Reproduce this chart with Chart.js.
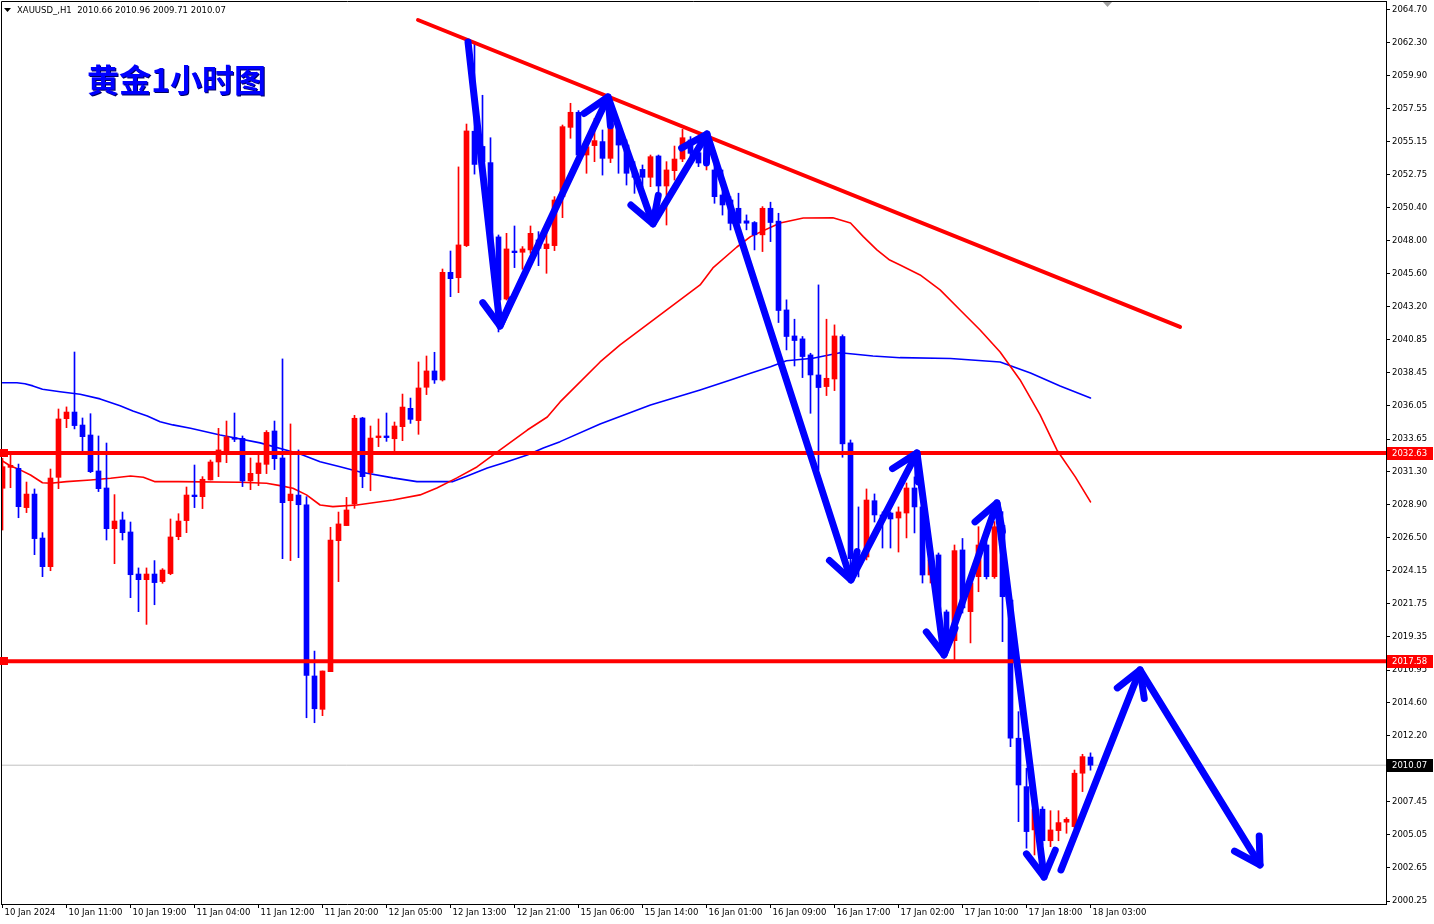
<!DOCTYPE html>
<html>
<head>
<meta charset="utf-8">
<title>XAUUSD H1</title>
<script src="https://cdn.jsdelivr.net/npm/chart.js@4.4.1/dist/chart.umd.min.js"></script>
<style>
  html, body { margin: 0; padding: 0; background: #fff; }
  #wrap { width: 1434px; height: 924px; position: relative; }
</style>
</head>
<body>
<div id="wrap"><canvas id="myChart"></canvas></div>
<script>
'use strict';

// H1 candles, 10 Jan 03:00 .. 18 Jan 03:00
let opens = [
  2030.09, 2031.60, 2031.53, 2028.69, 2029.67, 2026.49, 2024.42, 2030.88, 2035.12, 2035.60,
  2034.66, 2033.94, 2031.34, 2030.11, 2027.17, 2027.80, 2026.93, 2023.89, 2023.48, 2023.89,
  2023.34, 2023.92, 2026.59, 2027.75, 2029.60, 2029.48, 2030.69, 2031.99, 2032.74, 2033.75,
  2033.70, 2030.62, 2031.15, 2031.82, 2034.23, 2032.28, 2029.19, 2029.60, 2028.90, 2016.52,
  2014.11, 2016.83, 2026.30, 2027.39, 2028.95, 2035.17, 2031.22, 2033.75, 2033.87, 2033.67,
  2034.54, 2035.87, 2034.98, 2037.39, 2038.57, 2037.92, 2045.70, 2045.31, 2047.63, 2055.90,
  2054.80, 2053.63, 2048.26, 2043.77, 2047.24, 2047.15, 2047.32, 2048.04, 2047.41, 2047.63,
  2051.17, 2056.18, 2057.27, 2054.18, 2054.86, 2055.15, 2053.94, 2056.23, 2054.90, 2052.86,
  2053.14, 2052.57, 2054.11, 2051.94, 2053.05, 2053.89, 2055.27, 2054.35, 2053.60, 2053.10,
  2051.29, 2050.93, 2050.33, 2049.42, 2049.30, 2048.41, 2050.33, 2049.40, 2042.98, 2041.10,
  2040.89, 2039.73, 2038.28, 2037.44, 2037.99, 2041.06, 2033.37, 2025.20, 2025.12, 2029.19,
  2028.16, 2028.30, 2027.94, 2028.30, 2030.11, 2028.74, 2023.82, 2025.27, 2021.15, 2019.07,
  2025.63, 2021.17, 2023.70, 2025.99, 2023.70, 2027.40, 2022.01, 2012.02, 2008.52, 2005.39,
  2006.89, 2004.61, 2005.34, 2005.95, 2005.63, 2009.49, 2010.66
];
let highs = [
  2032.25, 2032.49, 2031.84, 2030.54, 2030.04, 2026.88, 2031.48, 2035.82, 2035.97, 2039.94,
  2035.17, 2035.48, 2033.87, 2033.36, 2029.63, 2028.37, 2027.65, 2024.33, 2024.33, 2024.86,
  2024.28, 2027.87, 2028.25, 2030.18, 2031.77, 2030.93, 2032.13, 2034.42, 2034.95, 2035.53,
  2033.87, 2032.28, 2032.52, 2034.26, 2034.95, 2039.44, 2034.74, 2032.86, 2029.48, 2018.32,
  2016.88, 2027.27, 2028.37, 2029.43, 2035.36, 2035.22, 2034.59, 2035.10, 2035.53, 2034.88,
  2036.90, 2036.61, 2039.22, 2039.65, 2039.92, 2045.94, 2047.24, 2053.32, 2056.42, 2062.40,
  2058.50, 2055.43, 2048.40, 2048.52, 2049.05, 2047.56, 2049.05, 2048.64, 2048.52, 2051.17,
  2056.35, 2057.92, 2057.39, 2055.27, 2056.83, 2055.99, 2057.43, 2056.47, 2055.27, 2053.70,
  2053.46, 2054.18, 2054.18, 2053.70, 2054.83, 2056.04, 2055.51, 2055.27, 2055.51, 2053.70,
  2053.10, 2051.17, 2051.42, 2049.85, 2049.37, 2050.45, 2050.77, 2049.97, 2043.71, 2042.31,
  2041.06, 2039.85, 2044.79, 2042.31, 2041.90, 2041.18, 2033.58, 2028.74, 2030.04, 2029.68,
  2028.38, 2028.38, 2028.74, 2030.47, 2030.91, 2029.24, 2025.63, 2025.41, 2021.29, 2025.99,
  2026.46, 2023.46, 2027.31, 2026.35, 2027.68, 2028.40, 2022.23, 2013.94, 2009.85, 2007.07,
  2007.07, 2006.78, 2006.78, 2006.28, 2009.72, 2010.86, 2010.96
];
let lows = [
  2027.07, 2030.13, 2027.96, 2028.33, 2025.29, 2023.70, 2024.13, 2030.06, 2034.47, 2034.38,
  2032.79, 2031.22, 2029.85, 2026.35, 2024.64, 2026.35, 2022.18, 2021.17, 2020.25, 2021.67,
  2023.22, 2023.84, 2026.37, 2026.88, 2028.69, 2028.62, 2030.69, 2030.93, 2031.94, 2033.46,
  2030.21, 2029.99, 2030.28, 2031.15, 2031.44, 2025.00, 2024.86, 2025.07, 2013.50, 2013.14,
  2013.65, 2016.83, 2023.34, 2027.39, 2028.64, 2030.13, 2029.91, 2033.10, 2033.48, 2032.81,
  2033.53, 2034.78, 2033.99, 2036.86, 2037.67, 2037.84, 2043.94, 2044.23, 2047.56, 2052.80,
  2053.10, 2047.32, 2041.39, 2043.70, 2046.04, 2045.92, 2047.07, 2046.18, 2045.63, 2047.27,
  2049.65, 2055.39, 2054.06, 2052.86, 2053.70, 2052.73, 2053.63, 2052.86, 2052.01, 2051.41,
  2051.89, 2051.89, 2051.53, 2049.12, 2052.37, 2053.70, 2053.94, 2053.34, 2053.10, 2050.69,
  2049.84, 2048.76, 2048.89, 2048.77, 2047.32, 2047.20, 2047.92, 2042.07, 2040.09, 2038.93,
  2038.09, 2035.51, 2031.42, 2036.79, 2037.15, 2032.33, 2023.32, 2023.68, 2024.91, 2027.65,
  2025.77, 2025.77, 2025.48, 2026.50, 2026.86, 2023.24, 2023.24, 2020.57, 2018.04, 2017.68,
  2021.07, 2018.91, 2022.61, 2023.53, 2023.58, 2019.00, 2011.41, 2005.99, 2004.07, 2003.58,
  2004.30, 2004.18, 2004.61, 2005.15, 2005.51, 2008.16, 2009.71
];
let closes = [
  2031.65, 2031.75, 2028.76, 2029.67, 2026.45, 2024.42, 2030.83, 2035.10, 2035.60, 2034.62,
  2033.82, 2031.29, 2030.06, 2027.17, 2027.72, 2026.88, 2023.84, 2023.48, 2023.89, 2023.27,
  2024.18, 2026.57, 2027.72, 2029.60, 2029.48, 2030.74, 2031.99, 2032.86, 2033.80, 2033.63,
  2030.62, 2031.17, 2031.92, 2034.13, 2032.23, 2029.05, 2029.67, 2028.90, 2016.56, 2014.15,
  2016.88, 2026.35, 2027.51, 2028.52, 2035.15, 2030.93, 2033.72, 2033.87, 2033.75, 2034.59,
  2035.96, 2035.07, 2037.34, 2038.57, 2037.92, 2045.70, 2045.24, 2047.68, 2055.92, 2053.50,
  2053.70, 2048.04, 2043.70, 2047.39, 2047.12, 2047.39, 2048.52, 2047.44, 2047.75, 2050.93,
  2056.23, 2057.27, 2054.18, 2054.78, 2055.22, 2053.94, 2056.47, 2054.90, 2052.86, 2052.57,
  2052.57, 2054.06, 2051.94, 2053.10, 2053.89, 2055.43, 2054.30, 2053.60, 2054.30, 2051.17,
  2050.57, 2049.24, 2049.25, 2049.25, 2048.41, 2050.33, 2049.30, 2042.94, 2041.06, 2040.77,
  2039.61, 2038.28, 2037.37, 2038.04, 2041.10, 2033.30, 2025.00, 2024.98, 2029.24, 2028.16,
  2028.02, 2027.87, 2028.38, 2030.11, 2028.74, 2023.82, 2024.91, 2021.29, 2019.12, 2025.58,
  2021.44, 2023.25, 2025.99, 2023.70, 2027.31, 2022.25, 2012.02, 2008.64, 2005.27, 2006.89,
  2004.61, 2005.39, 2005.92, 2006.16, 2009.49, 2010.69, 2010.07
];

// one time label every 8 candles
let timeLabels = [
  '10 Jan 2024', '10 Jan 11:00', '10 Jan 19:00', '11 Jan 04:00', '11 Jan 12:00', '11 Jan 20:00',
  '12 Jan 05:00', '12 Jan 13:00', '12 Jan 21:00', '15 Jan 06:00', '15 Jan 14:00', '16 Jan 01:00',
  '16 Jan 09:00', '16 Jan 17:00', '17 Jan 02:00', '17 Jan 10:00', '17 Jan 18:00', '18 Jan 03:00'
];
let priceTicks = [
  2064.70, 2062.30, 2059.90, 2057.55, 2055.15, 2052.75, 2050.40, 2048.00, 2045.60, 2043.20,
  2040.85, 2038.45, 2036.05, 2033.65, 2031.30, 2028.90, 2026.50, 2024.15, 2021.75, 2019.35,
  2016.95, 2014.60, 2012.20, 2009.80, 2007.45, 2005.05, 2002.65, 2000.25
];

// horizontal levels + last price
let levels = [2032.63, 2017.58];
let lastPrice = 2010.07;

// trend line (candle index, price)
let trendIdx = [51.94, 147.19];
let trendPrice = [2063.94, 2041.75];

// moving averages
let maRedIdx = [0, 1, 2.2, 3.5, 5, 6, 8, 11, 13.5, 16, 17.6, 19, 22, 29.7, 33, 34.7, 36.3, 38, 39.7, 41.3,
  44.3, 48.8, 52.2, 54.3, 56.8, 59.3, 62.2, 65.6, 68.1, 69.7, 74.7, 77.2, 82.2, 87.2, 88.8, 91.8, 93.5, 97.2,
  100.1, 103.8, 106, 107.6, 109.3, 110.9, 112.2, 114.7, 117.2, 119.7, 122.2, 124.7, 127.2, 129.7, 131.8, 134.1, 136];
let maRed = [2032.06, 2031.70, 2031.42, 2031.05, 2030.49, 2030.45, 2030.57, 2030.69, 2030.81, 2030.98, 2030.89,
  2030.57, 2030.57, 2030.52, 2030.45, 2030.28, 2030.09, 2029.61, 2028.88, 2028.76, 2028.88, 2029.24, 2029.61,
  2030.11, 2030.84, 2031.63, 2032.86, 2034.30, 2035.24, 2036.33, 2039.22, 2040.45, 2042.62, 2044.79, 2046.02,
  2047.53, 2048.28, 2049.27, 2049.63, 2049.65, 2049.27, 2048.28, 2047.32, 2046.59, 2046.23, 2045.51, 2044.43,
  2042.98, 2041.53, 2039.94, 2037.92, 2035.39, 2032.86, 2030.91, 2029.10];
let maBlueIdx = [0, 1.8, 2.8, 3.8, 5, 7.2, 9.7, 12.2, 14.7, 16.3, 18.1, 19.7, 21.3, 23.5, 27.2, 32.2, 37.2, 39.7,
  42.2, 44.7, 48.8, 51.8, 56.3, 58.1, 60.6, 62.6, 65.6, 67.6, 69.7, 74.7, 81, 87.2, 91, 93.5, 96, 98, 101.3,
  104.7, 106.3, 108.8, 112.2, 118.5, 124.7, 128.5, 132.2, 136];
let maBlue = [2037.72, 2037.72, 2037.65, 2037.49, 2037.25, 2037.07, 2036.89, 2036.55, 2036.06, 2035.68, 2035.32,
  2034.90, 2034.67, 2034.43, 2033.94, 2033.37, 2032.57, 2032.01, 2031.65, 2031.27, 2030.84, 2030.57, 2030.57,
  2030.98, 2031.56, 2031.92, 2032.50, 2033.00, 2033.46, 2034.74, 2036.11, 2037.20, 2037.92, 2038.40, 2038.88,
  2039.31, 2039.49, 2039.89, 2039.80, 2039.65, 2039.53, 2039.47, 2039.22, 2038.42, 2037.49, 2036.62];

// hand drawn arrows (candle index, price)
let zigIdx = [58.19, 62.19, 75.69, 81.31, 88.06, 106.06, 114.31, 117.69, 124.31, 130.19];
let zigPrice = [2062.35, 2041.82, 2058.38, 2049.20, 2055.70, 2023.46, 2032.64, 2018.04, 2029.03, 2001.99];
let nextIdx = [132.31, 142.19, 157.19];
let nextPrice = [2002.50, 2016.96, 2002.86];

const RED = '#ff0000';
const BLUE = '#0000ff';
const FONT = 'DejaVu Sans';

function pts(xs, ys) {
  return xs.map((x, i) => ({ x: x, y: ys[i] }));
}

let bodies = [];
let wicks = [];
let candleColors = [];
for (let i = 0; i < opens.length; i++) {
  bodies.push({ x: i, y: [opens[i], closes[i]] });
  wicks.push({ x: i, y: [lows[i], highs[i]] });
  candleColors.push(closes[i] >= opens[i] ? RED : BLUE);
}

function flatLine(v) {
  return [{ x: -5, y: v }, { x: 180, y: v }];
}

function lineSet(data, color, width, order) {
  return {
    type: 'line', data: data, borderColor: color, borderWidth: width,
    pointRadius: 0, fill: false, tension: 0, order: order,
    borderCapStyle: 'round', borderJoinStyle: 'round'
  };
}

let arrowSets = [
  lineSet(pts(zigIdx, zigPrice), BLUE, 7, 0),
  lineSet(pts(nextIdx, nextPrice), BLUE, 7, 0)
];

let datasets = arrowSets.concat([
  lineSet(flatLine(levels[0]), RED, 4, 1),
  lineSet(flatLine(levels[1]), RED, 4, 1),
  lineSet(pts(trendIdx, trendPrice), RED, 4, 1),
  {
    type: 'bar', data: bodies, backgroundColor: candleColors, borderWidth: 0,
    barThickness: 5, grouped: false, minBarLength: 1, order: 2
  },
  {
    type: 'bar', data: wicks, backgroundColor: candleColors, borderWidth: 0,
    barThickness: 1, grouped: false, minBarLength: 1, order: 3
  },
  lineSet(pts(maRedIdx, maRed), RED, 1.6, 4),
  lineSet(pts(maBlueIdx, maBlue), BLUE, 1.6, 4),
  lineSet(flatLine(lastPrice), '#c0c0c0', 1, 5)
]);

function drawHead(ctx, from, to) {
  let ang = Math.atan2(to.y - from.y, to.x - from.x);
  let len = 29;
  let spread = Math.PI / 6;
  ctx.beginPath();
  ctx.moveTo(to.x - len * Math.cos(ang - spread), to.y - len * Math.sin(ang - spread));
  ctx.lineTo(to.x, to.y);
  ctx.lineTo(to.x - len * Math.cos(ang + spread), to.y - len * Math.sin(ang + spread));
  ctx.stroke();
}

// keep the plot area glued to the frame, no room for label overflow
function noPad(scale) {
  scale.paddingTop = 0;
  scale.paddingBottom = 0;
  scale.paddingLeft = 0;
  scale.paddingRight = 0;
}

const mt4Look = {
  id: 'mt4Look',
  beforeDraw(chart) {
    let ctx = chart.ctx;
    ctx.save();
    ctx.fillStyle = '#fff';
    ctx.fillRect(0, 0, chart.width, chart.height);
    ctx.restore();
  },
  afterDatasetsDraw(chart) {
    let ctx = chart.ctx;
    ctx.save();
    ctx.strokeStyle = BLUE;
    ctx.lineWidth = 7;
    ctx.lineCap = 'round';
    ctx.lineJoin = 'round';
    for (let d = 0; d < arrowSets.length; d++) {
      let p = chart.getDatasetMeta(d).data;
      for (let j = 1; j < p.length; j++) {
        drawHead(ctx, p[j - 1], p[j]);
      }
    }
    ctx.restore();
  },
  afterDraw(chart) {
    let ctx = chart.ctx;
    let area = chart.chartArea;
    let yScale = chart.scales.y;
    ctx.save();

    // frame
    ctx.strokeStyle = '#000';
    ctx.lineWidth = 1;
    ctx.beginPath();
    ctx.moveTo(1.5, area.bottom);
    ctx.lineTo(1.5, 1.5);
    ctx.lineTo(area.right, 1.5);
    ctx.stroke();

    // level markers and price boxes
    ctx.font = '8.5px "' + FONT + '"';
    ctx.textBaseline = 'middle';
    ctx.textAlign = 'left';
    let boxes = levels.map(v => ({ v: v, bg: RED })).concat([{ v: lastPrice, bg: '#000' }]);
    boxes.forEach(b => {
      let y = Math.round(yScale.getPixelForValue(b.v));
      if (b.bg === RED) {
        ctx.fillStyle = RED;
        ctx.fillRect(0, y - 4, 8, 8);
      }
      ctx.fillStyle = b.bg;
      ctx.fillRect(area.right + 1, y - 6, 46, 13);
      ctx.fillStyle = '#fff';
      ctx.fillText(b.v.toFixed(2), area.right + 6, y + 0.5);
    });

    // shift marker
    ctx.fillStyle = '#a0a0a0';
    ctx.beginPath();
    ctx.moveTo(1103, 2);
    ctx.lineTo(1112, 2);
    ctx.lineTo(1107.5, 7);
    ctx.closePath();
    ctx.fill();

    // header
    ctx.fillStyle = '#000';
    ctx.beginPath();
    ctx.moveTo(4, 8);
    ctx.lineTo(11, 8);
    ctx.lineTo(7.5, 12);
    ctx.closePath();
    ctx.fill();
    ctx.font = '8.5px "' + FONT + '"';
    ctx.fillText('XAUUSD_,H1  2010.66 2010.96 2009.71 2010.07', 17, 10.5);

    // title
    ctx.font = 'bold 32px "Noto Sans CJK SC"';
    ctx.fillStyle = '#000060';
    ctx.fillText('黄金1小时图', 88, 81);
    ctx.fillStyle = BLUE;
    ctx.fillText('黄金1小时图', 87, 80);
    ctx.restore();
  }
};

const ctx = document.getElementById('myChart');
const myChart = new Chart(ctx, {
  type: 'bar',
  data: { datasets: datasets },
  plugins: [mt4Look],
  options: {
    responsive: true,
    maintainAspectRatio: false,
    devicePixelRatio: 1,
    animation: false,
    layout: { padding: { left: 1, top: 1, right: 0, bottom: 0 } },
    plugins: { legend: { display: false }, tooltip: { enabled: false } },
    scales: {
      x: {
        type: 'linear',
        offset: false,
        min: -0.1875,
        max: -0.1875 + 1385 / 8,
        afterBuildTicks: (axis) => {
          axis.ticks = timeLabels.map((t, k) => ({ value: k * 8 }));
        },
        afterFit: (scale) => { scale.height = 20; noPad(scale); },
        grid: { drawOnChartArea: false, offset: false, color: '#000', tickLength: 4 },
        border: { color: '#000' },
        ticks: {
          autoSkip: false, maxRotation: 0, minRotation: 0, align: 'start',
          padding: 0, labelOffset: 2, color: '#000',
          font: { family: FONT, size: 8.5 },
          callback: (v) => timeLabels[Math.round(v / 8)]
        }
      },
      y: {
        position: 'right',
        min: 2000.036,
        max: 2065.314,
        afterBuildTicks: (axis) => {
          axis.ticks = priceTicks.map(v => ({ value: v }));
        },
        afterFit: (scale) => { scale.width = 48; noPad(scale); },
        grid: { drawOnChartArea: false, color: '#000', tickLength: 4 },
        border: { color: '#000' },
        ticks: {
          autoSkip: false, padding: 2, color: '#000',
          font: { family: FONT, size: 8.5 },
          callback: (v) => Number(v).toFixed(2)
        }
      }
    }
  }
});
</script>
</body>
</html>
